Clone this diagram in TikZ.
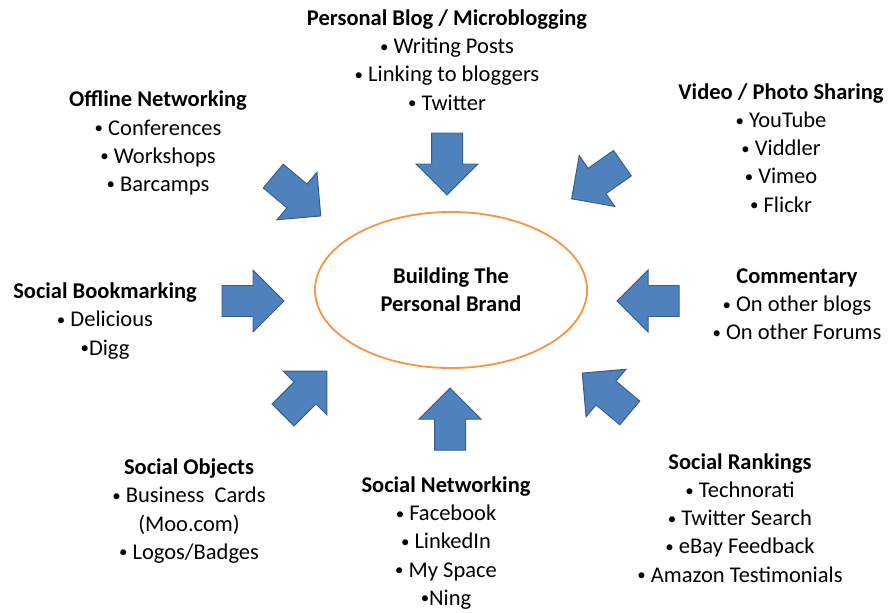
\documentclass[tikz,border=0pt]{standalone}
\usepackage{fontspec}
\setmainfont{Carlito}
\usepackage{tikz}
\usetikzlibrary{positioning,shapes}

\definecolor{arrowblue}{HTML}{4F81BD}
\definecolor{arrowedge}{HTML}{385D8A}
\definecolor{brandorange}{HTML}{F79646}

\newcommand{\bul}{\raisebox{0.12ex}{\scalebox{0.75}{•}}}

\begin{document}
\begin{tikzpicture}[x=0.025cm, y=-0.025cm,
    grp/.style={%
      align=center, inner sep=0pt, font=\fontsize{16}{20}\selectfont
    },
    brand/.style={%
      ellipse, draw=brandorange, line width=1.3pt, fill=white,
      minimum width=6.8cm, minimum height=3.9cm, align=center,
      font=\fontsize{16}{20}\selectfont\bfseries
    },
    flowarrow/.pic={
      \draw[draw=arrowedge, fill=arrowblue, line width=0.7pt, line join=miter]
        (-31,-15.5) -- (0,-15.5) -- (0,-31) -- (31,0) -- (0,31) -- (0,15.5) -- (-31,15.5) -- cycle;
    }
]
    \useasboundingbox (0,0) rectangle (892,612);

    % centre
    \node[brand] (core) at (451,290) {Building The\\Personal Brand};

    % arrows round the centre
    \pic (arrTop)         at (447,164) [rotate=-90]  {flowarrow};
    \pic (arrTopLeft)     at (297,196) [rotate=-40]  {flowarrow};
    \pic (arrTopRight)    at (597,181) [rotate=-145] {flowarrow};
    \pic (arrLeft)        at (253,301)               {flowarrow};
    \pic (arrRight)       at (648,301) [rotate=180]  {flowarrow};
    \pic (arrBottomLeft)  at (305,393) [rotate=45]   {flowarrow};
    \pic (arrBottom)      at (450,419) [rotate=90]   {flowarrow};
    \pic (arrBottomRight) at (606,393) [rotate=140]  {flowarrow};

    % groups of channels
    \node[grp] (blog)     at (447,60)  {\textbf{Personal Blog / Microblogging}\\\bul{} Writing Posts\\\bul{} Linking to bloggers\\\bul{} Twitter};
    \node[grp] (offline)  at (158,143) {\textbf{Offline Networking}\\\bul{} Conferences\\\bul{} Workshops\\\bul{} Barcamps};
    \node[grp] (video)    at (781,148) {\textbf{Video / Photo Sharing}\\\bul{} YouTube\\\bul{} Viddler\\\bul{} Vimeo\\\bul{} Flickr};
    \node[grp] (comment)  at (797,304) {\textbf{Commentary}\\\bul{} On other blogs\\\bul{} On other Forums};
    \node[grp] (bookmark) at (105,321) {\textbf{Social Bookmarking}\\\bul{} Delicious\\\bul{}Digg};
    \node[grp] (objects)  at (189,511) {\textbf{Social Objects}\\\bul{} Business\ \ Cards\\(Moo.com)\\\bul{} Logos/Badges};
    \node[grp] (network)  at (446,543) {\textbf{Social Networking}\\\bul{} Facebook\\\bul{} LinkedIn\\\bul{} My Space\\\bul{}Ning};
    \node[grp] (ranking)  at (740,518) {\textbf{Social Rankings}\\\bul{} Technorati\\\bul{} Twitter Search\\\bul{} eBay Feedback\\\bul{} Amazon Testimonials};

\end{tikzpicture}
\end{document}
